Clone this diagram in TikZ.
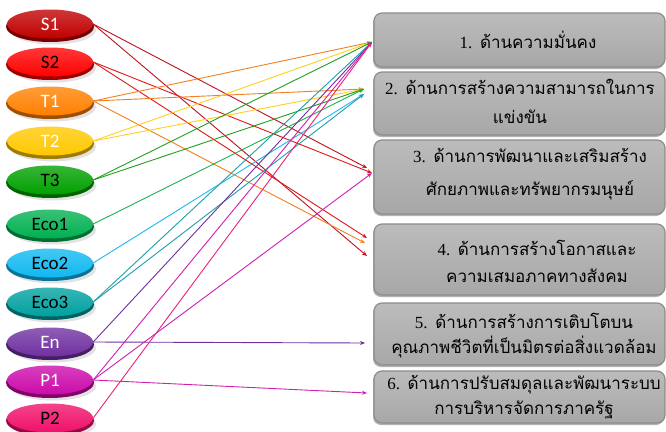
\documentclass[tikz,border=0pt]{standalone}
\usepackage{fontspec}
\setmainfont{Liberation Serif}
\newfontfamily\thaifont[Script=Thai]{Loma}
\newfontfamily\numfont{Liberation Serif}
\newfontfamily\labfont{Carlito}
\usetikzlibrary{shapes.geometric,arrows.meta}
\definecolor{cS1}{HTML}{C00000}
\definecolor{cS2}{HTML}{FF0000}
\definecolor{cT1}{HTML}{FF8000}
\definecolor{cT2}{HTML}{FFC800}
\definecolor{cT3}{HTML}{00A000}
\definecolor{cEa}{HTML}{00B050}
\definecolor{cEb}{HTML}{10B8F0}
\definecolor{cEc}{HTML}{00A0A0}
\definecolor{cEn}{HTML}{7030A0}
\definecolor{cPa}{HTML}{CC0AAA}
\definecolor{cPb}{HTML}{F0106A}
\definecolor{lS1}{HTML}{C01020}
\definecolor{lS2}{HTML}{E01818}
\definecolor{lT1}{HTML}{F08020}
\definecolor{lT2}{HTML}{FFD020}
\definecolor{lT3}{HTML}{20A020}
\definecolor{lEa}{HTML}{20B050}
\definecolor{lEb}{HTML}{20B8E8}
\definecolor{lEc}{HTML}{20A0A8}
\definecolor{lEn}{HTML}{7030A0}
\definecolor{lPa}{HTML}{D020B0}
\definecolor{lPb}{HTML}{F0207A}
\definecolor{boxfill}{HTML}{B0B0B0}
\definecolor{boxedge}{HTML}{8C8C8C}
\begin{document}
\begin{tikzpicture}[x=1pt,y=-1pt,
  oval/.style={ellipse, minimum width=86pt, minimum height=29pt, inner sep=0pt,
    font=\labfont\fontsize{19}{19}\selectfont,
    top color=#1!78!white, bottom color=#1,
    preaction={fill=black!25, opacity=0.45, transform canvas={xshift=3pt,yshift=-6pt}},
    preaction={fill=#1!62!black, draw=#1!62!black, line width=2pt, transform canvas={yshift=-2.5pt}}},
  panel/.style={rectangle, rounded corners=8pt, minimum width=291pt, inner sep=0pt,
    top color=boxfill!85!white, bottom color=boxfill!95!black, draw=boxedge, line width=1.2pt,
    preaction={fill=black!30, rounded corners=8pt, transform canvas={xshift=-1pt,yshift=-2pt}}},
  ptext/.style={align=center, inner sep=0pt, font=\thaifont\fontsize{17}{#1}\selectfont},
  arr/.style={draw=#1, line width=0.9pt, -{Stealth[length=5pt,width=4pt]}}
]
\useasboundingbox (0,0) rectangle (666,431);
\fill[white] (0,0) rectangle (666,431);

% boxes
\node[panel, minimum height=54pt] (B1) at (519.5,40) {};
\node[panel, minimum height=63pt] (B2) at (519.5,103.5) {};
\node[panel, minimum height=74pt] (B3) at (519.5,177) {};
\node[panel, minimum height=71pt] (B4) at (519.5,259.5) {};
\node[panel, minimum height=62pt] (B5) at (519.5,334) {};
\node[panel, minimum height=52pt] (B6) at (519.5,397) {};

\node[ptext=28] (L1) at (528,40) {{\numfont 1.} ด้านความมั่นคง};
\node[ptext=29] (L2) at (520,101.5) {{\numfont 2.} ด้านการสร้างความสามารถในการ\\แข่งขัน};
\node[ptext=33] (L3) at (530,174.5) {{\numfont 3.} ด้านการพัฒนาและเสริมสร้าง\\ศักยภาพและทรัพยากรมนุษย์};
\node[ptext=27] (L4) at (537,261.5) {{\numfont 4.} ด้านการสร้างโอกาสและ\\ความเสมอภาคทางสังคม};
\node[ptext=25] (L5) at (524,335.5) {{\numfont 5.} ด้านการสร้างการเติบโตบน\\คุณภาพชีวิตที่เป็นมิตรต่อสิ่งแวดล้อม};
\node[ptext=25] (L6) at (524,397.5) {{\numfont 6.} ด้านการปรับสมดุลและพัฒนาระบบ\\การบริหารจัดการภาครัฐ};

% ovals
\node[oval=cS1, text=white] (S1) at (50,24) {S1};
\node[oval=cS2, text=black] (S2) at (50,62) {S2};
\node[oval=cT1, text=white] (T1) at (50,101) {T1};
\node[oval=cT2, text=white] (T2) at (50,141) {T2};
\node[oval=cT3, text=black] (T3) at (50,180) {T3};
\node[oval=cEa, text=black] (Eco1) at (50,224) {Eco1};
\node[oval=cEb, text=black] (Eco2) at (50,263) {Eco2};
\node[oval=cEc, text=black] (Eco3) at (50,302) {Eco3};
\node[oval=cEn, text=white] (En) at (50,342) {En};
\node[oval=cPa, text=white] (P1) at (50,380) {P1};
\node[oval=cPb, text=black] (P2) at (50,418) {P2};

% arrow targets
\coordinate (a1) at (372,42);
\coordinate (a2a) at (364,89);
\coordinate (a2b) at (364,94);
\coordinate (a3a) at (367,168);
\coordinate (a3b) at (372,173);
\coordinate (a4a) at (367,238);
\coordinate (a4b) at (365,243);
\coordinate (a4c) at (367,256);
\coordinate (a5) at (365,343);
\coordinate (a6) at (367,393);

% connectors
\draw[arr=lS1] (S1.east) -- (a3a);
\draw[arr=lS1] (S1.east) -- (a4c);
\draw[arr=lS2] (S2.east) -- (a3b);
\draw[arr=lS2] (S2.east) -- (a4a);
\draw[arr=lT1] (T1.east) -- (a1);
\draw[arr=lT1] (T1.east) -- (a2a);
\draw[arr=lT1] (T1.east) -- (a4b);
\draw[arr=lT2] (T2.east) -- (a1);
\draw[arr=lT2] (T2.east) -- (a2a);
\draw[arr=lT3] (T3.east) -- (a1);
\draw[arr=lT3] (T3.east) -- (a2a);
\draw[arr=lEa] (Eco1.east) -- (a2a);
\draw[arr=lEb] (Eco2.east) -- (a2b);
\draw[arr=lEc] (Eco3.east) -- (a1);
\draw[arr=lEc] (Eco3.east) -- (a2b);
\draw[arr=lEn] (En.east) -- (a1);
\draw[arr=lEn] (En.east) -- (a5);
\draw[arr=lPa] (P1.east) -- (a1);
\draw[arr=lPa] (P1.east) -- (a3b);
\draw[arr=lPa] (P1.east) -- (a6);
\draw[arr=lPb] (P2.east) -- (a1);
\end{tikzpicture}
\end{document}
